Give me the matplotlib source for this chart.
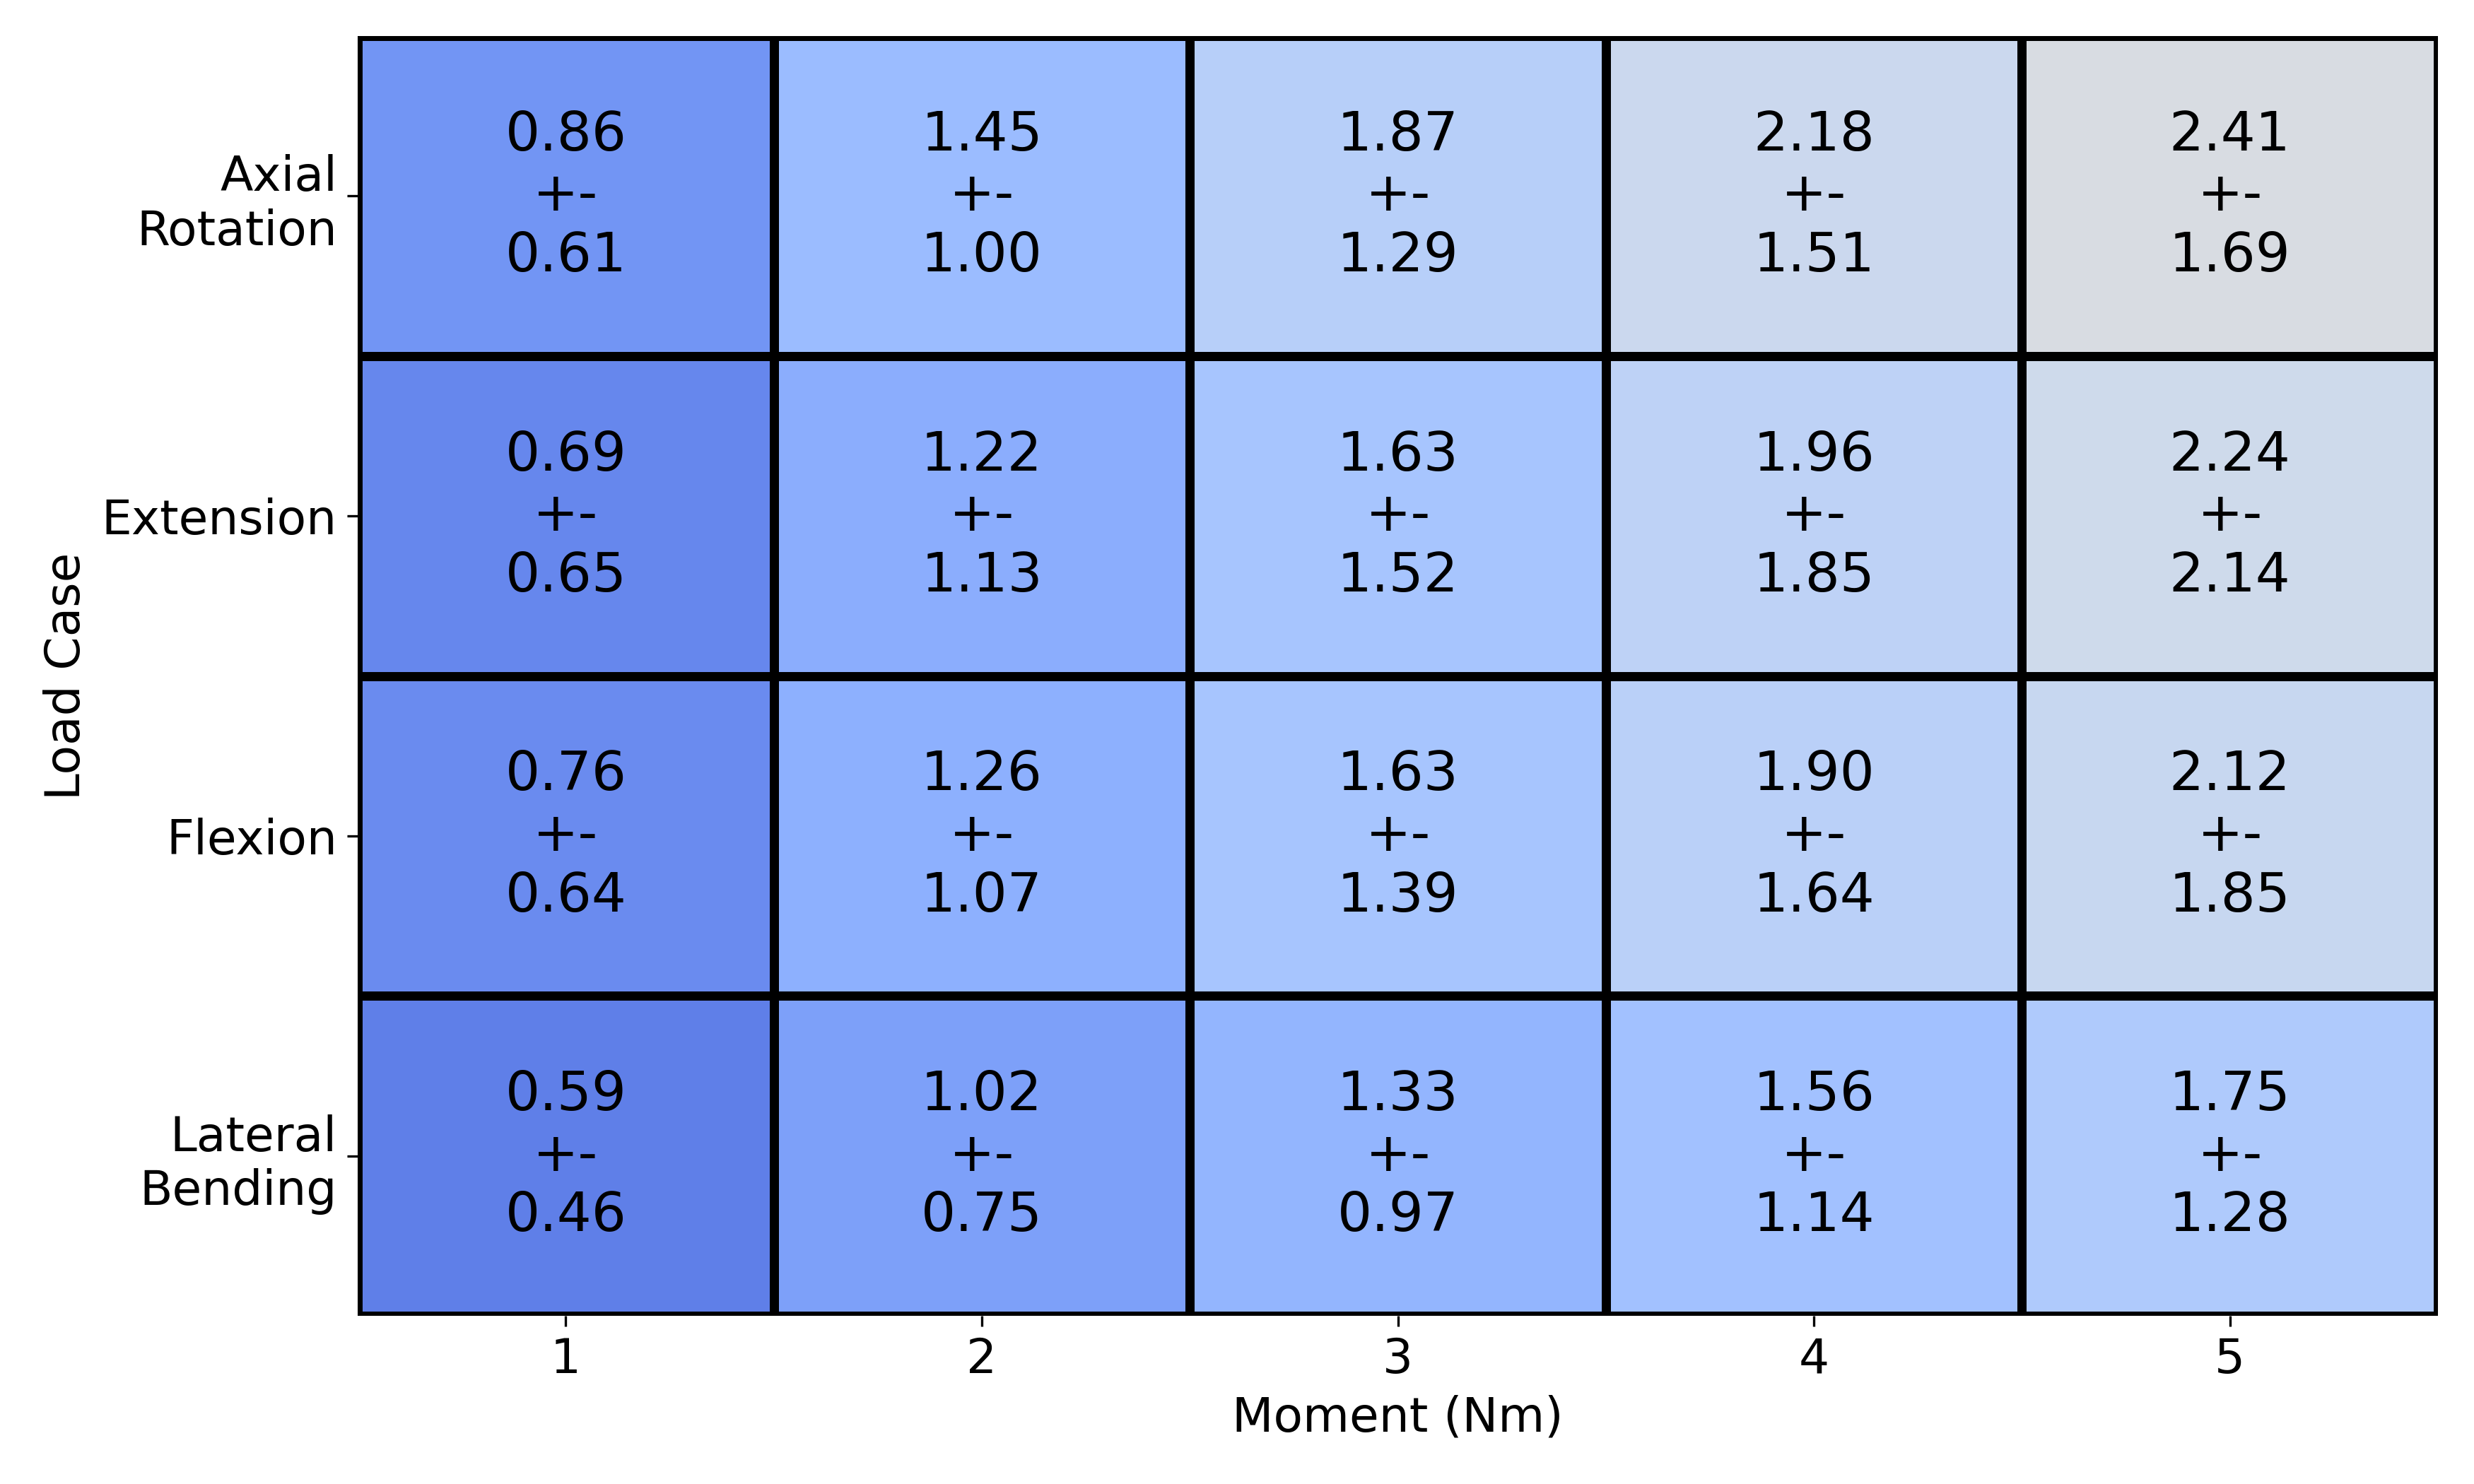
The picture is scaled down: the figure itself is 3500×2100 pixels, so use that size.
import numpy as np
import matplotlib
matplotlib.use("Agg")
import matplotlib.pyplot as plt

load_cases = ["Axial\nRotation", "Extension", "Flexion", "Lateral\nBending"]
moments = ["1", "2", "3", "4", "5"]

means_axial = [0.86, 1.45, 1.87, 2.18, 2.41]
means_extension = [0.69, 1.22, 1.63, 1.96, 2.24]
means_flexion = [0.76, 1.26, 1.63, 1.90, 2.12]
means_lateral = [0.59, 1.02, 1.33, 1.56, 1.75]

sds_axial = [0.61, 1.00, 1.29, 1.51, 1.69]
sds_extension = [0.65, 1.13, 1.52, 1.85, 2.14]
sds_flexion = [0.64, 1.07, 1.39, 1.64, 1.85]
sds_lateral = [0.46, 0.75, 0.97, 1.14, 1.28]

means = np.array([means_axial, means_extension, means_flexion, means_lateral])
sds = np.array([sds_axial, sds_extension, sds_flexion, sds_lateral])

fig = plt.figure(figsize=(3500 / 300, 2100 / 300), dpi=300)
ax = fig.add_axes([0.1446, 0.1133, 0.9854 - 0.1446, 0.9757 - 0.1133])

nrows, ncols = means.shape
ax.pcolormesh(np.arange(ncols + 1), np.arange(nrows + 1), means,
              cmap="coolwarm", vmin=0, vmax=5,
              edgecolors="black", linewidth=2.7)
ax.set_xlim(0, ncols)
ax.set_ylim(nrows, 0)

for i in range(nrows):
    for j in range(ncols):
        ax.text(j + 0.5, i + 0.5, f"{means[i, j]:.2f}\n+-\n{sds[i, j]:.2f}",
                ha="center", va="center", fontsize=18.5, color="black")

ax.set_xticks(np.arange(ncols) + 0.5)
ax.set_xticklabels(moments, fontsize=16.3)
ax.set_yticks(np.arange(nrows) + 0.5)
ax.set_yticklabels(load_cases, fontsize=16.3, rotation=0, ha="right",
                   multialignment="right")
ax.set_xlabel("Moment (Nm)", fontsize=16.3)
ax.set_ylabel("Load Case", fontsize=16.3)
for s in ax.spines.values():
    s.set_visible(False)

fig.savefig("out.png", dpi=300)
